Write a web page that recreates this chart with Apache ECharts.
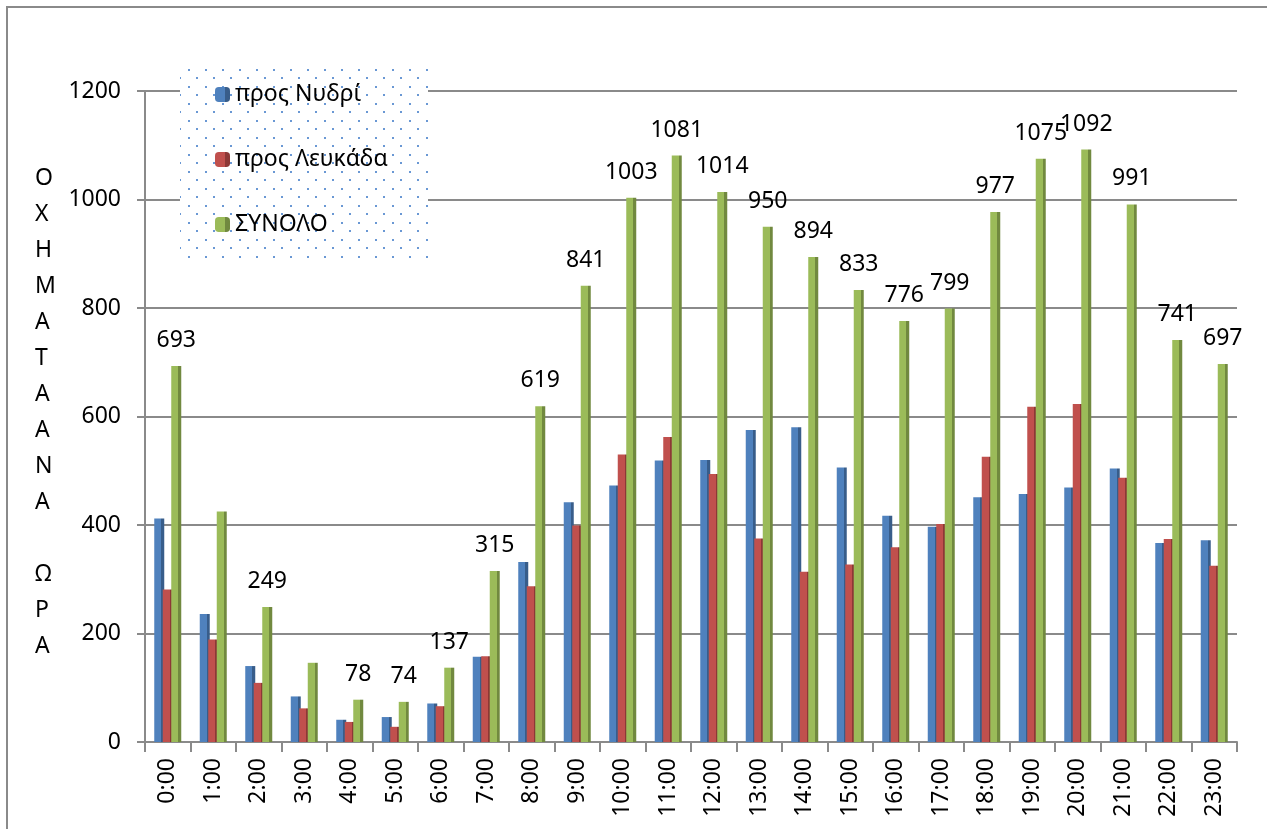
<!DOCTYPE html>
<html>
<head>
<meta charset="utf-8">
<script src="https://cdn.jsdelivr.net/npm/echarts@6/dist/echarts.min.js"></script>
<style>
  html, body { margin: 0; padding: 0; background: #fff; }
  #chart { width: 1267px; height: 829px; }
</style>
</head>
<body>
<div id="chart"></div>
<script>
var hours = ['0:00','1:00','2:00','3:00','4:00','5:00','6:00','7:00','8:00','9:00','10:00','11:00',
             '12:00','13:00','14:00','15:00','16:00','17:00','18:00','19:00','20:00','21:00','22:00','23:00'];
var nydri   = [412,236,140,84,41,46,71,157,332,442,473,519,520,575,580,506,417,397,451,457,469,504,367,372];
var lefkada = [281,189,109,62,37,28,66,158,287,399,530,562,494,375,314,327,359,402,526,618,623,487,374,325];
var total   = [693,425,249,146,78,74,137,315,619,841,1003,1081,1014,950,894,833,776,799,977,1075,1092,991,741,697];
var noLabel = ['1:00','3:00'];
var yTitle = ['Ο','Χ','Η','Μ','Α','Τ','Α','Α','Ν','Α','','Ω','Ρ','Α'];

var font = 'Noto Sans';

function side(base, dark) {
    return new echarts.graphic.LinearGradient(0, 0, 1, 0, [
        {offset: 0, color: base}, {offset: 0.7, color: base},
        {offset: 0.7, color: dark}, {offset: 1, color: dark}
    ]);
}

// dotted legend background (staggered dots)
var pc = document.createElement('canvas');
pc.width = 17; pc.height = 17;
var pctx = pc.getContext('2d');
pctx.fillStyle = '#6a98d4';
pctx.fillRect(1, 1, 2, 2);
pctx.fillRect(9, 9, 2, 2);

function load() {
    var myChart = echarts.init(document.getElementById('chart'));
    myChart.setOption({
        animation: false,
        backgroundColor: '#fff',
        textStyle: {fontFamily: font},
        grid: {left: 145, width: 1092, top: 91, bottom: 87},
        legend: {
            orient: 'vertical',
            left: 210, top: 78,
            itemWidth: 15, itemHeight: 15,
            itemGap: 42,
            z: 10,
            textStyle: {fontSize: 23, color: '#000', fontFamily: font},
            data: ['προς Νυδρί', 'προς Λευκάδα', 'ΣΥΝΟΛΟ']
        },
        graphic: [
            {type: 'rect', z: 0, shape: {x: 7, y: 7, width: 1275, height: 840},
             style: {fill: 'none', stroke: '#8a8a8a', lineWidth: 2}},
            {type: 'rect', z: 5, shape: {x: 180, y: 62, width: 248, height: 198},
             style: {fill: '#fff'}},
            {type: 'rect', z: 6, shape: {x: 180, y: 62, width: 248, height: 198},
             style: {fill: {image: pc, repeat: 'repeat'}}},
            {type: 'text', z: 10, left: 35, top: 160,
             style: {text: yTitle.join('\n'), fontSize: 23, lineHeight: 36,
                     fill: '#000', fontFamily: font, align: 'center'}}
        ],
        xAxis: {
            type: 'category',
            data: hours,
            axisLine: {lineStyle: {color: '#8a8a8a', width: 2}},
            axisTick: {show: true, interval: 0, length: 10, lineStyle: {color: '#8a8a8a', width: 2}},
            axisLabel: {interval: 0, rotate: 90, fontSize: 23, color: '#000', margin: 16}
        },
        yAxis: {
            type: 'value',
            min: 0, max: 1200, interval: 200,
            axisLine: {show: true, lineStyle: {color: '#8a8a8a', width: 2}},
            axisTick: {show: true, length: 8, lineStyle: {color: '#8a8a8a', width: 2}},
            axisLabel: {fontSize: 23, color: '#000', margin: 24,
                        formatter: function (v) { return String(v); }},
            splitLine: {lineStyle: {color: '#8a8a8a', width: 2}}
        },
        series: [
            {
                name: 'προς Νυδρί', type: 'bar', data: nydri,
                barWidth: 10, barGap: '-15%',
                itemStyle: {color: side('#4F81BD', '#385D8A')}
            },
            {
                name: 'προς Λευκάδα', type: 'bar', data: lefkada,
                barWidth: 10, barGap: '-15%',
                itemStyle: {color: side('#C0504D', '#8C3836')}
            },
            {
                name: 'ΣΥΝΟΛΟ', type: 'bar', data: total,
                barWidth: 10, barGap: '-15%',
                itemStyle: {color: side('#9BBB59', '#71893F')},
                label: {
                    show: true, position: 'top', distance: 14,
                    fontSize: 23, color: '#000', fontFamily: font,
                    formatter: function (p) {
                        return noLabel.indexOf(p.name) >= 0 ? '' : p.value;
                    }
                }
            }
        ]
    });
}
load();
</script>
</body>
</html>
